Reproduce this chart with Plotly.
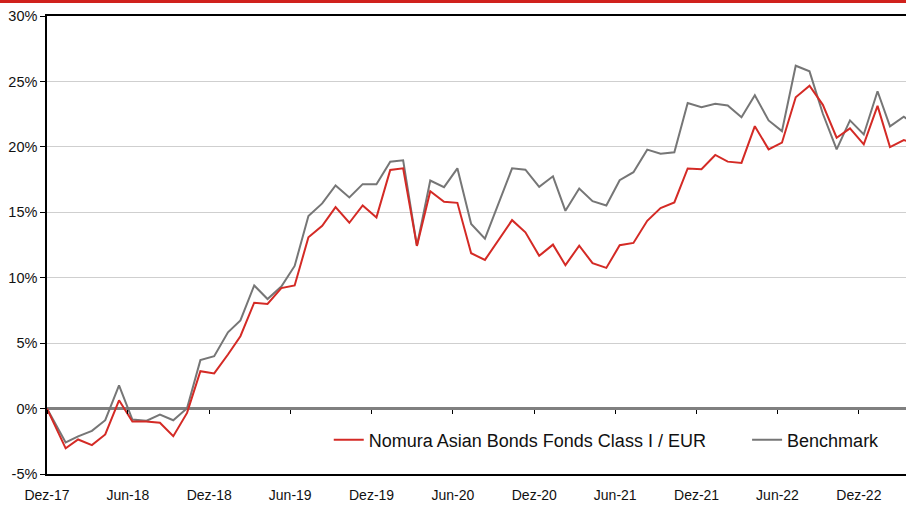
import pandas as pd
import plotly.graph_objects as go

# ---- data (cumulative performance, %) ----
start_date = ["2017-12-20"]
month_ends = [d.strftime("%Y-%m-%d") for d in pd.date_range("2018-01-31", periods=64, freq="ME")]
dates = start_date + month_ends

fund = [0, -3.04, -2.36, -2.79, -1.98, 0.63, -0.99, -0.99, -1.09, -2.11,
        -0.33, 2.86, 2.69, 4.13, 5.53, 8.09, 7.99, 9.21, 9.41, 13.09,
        13.97, 15.40, 14.20, 15.52, 14.61, 18.24, 18.36, 12.43, 16.61, 15.80,
        15.72, 11.87, 11.36, 12.88, 14.40, 13.47, 11.67, 12.53, 10.96, 12.45,
        11.11, 10.75, 12.48, 12.66, 14.35, 15.32, 15.75, 18.35, 18.29, 19.38,
        18.87, 18.77, 21.58, 19.81, 20.32, 23.79, 24.68, 23.21, 20.70, 21.41,
        20.19, 23.13, 19.98, 20.52, 20.2]

benchmark = [0, -2.59, -2.13, -1.70, -0.89, 1.77, -0.84, -0.94, -0.46, -0.89,
             0.02, 3.70, 4.00, 5.83, 6.74, 9.41, 8.37, 9.33, 10.90, 14.71,
             15.68, 17.05, 16.13, 17.15, 17.15, 18.87, 18.97, 12.43, 17.43, 16.92,
             18.36, 14.10, 12.98, 15.62, 18.36, 18.26, 16.94, 17.75, 15.11, 16.82,
             15.85, 15.52, 17.45, 18.06, 19.79, 19.48, 19.58, 23.35, 23.03, 23.29,
             23.16, 22.27, 23.94, 22.02, 21.20, 26.20, 25.77, 22.53, 19.81, 22.02,
             20.95, 24.25, 21.56, 22.30, 21.6]

tick_dates = ["2017-12-20", "2018-06-20", "2018-12-20", "2019-06-20", "2019-12-20",
              "2020-06-20", "2020-12-20", "2021-06-20", "2021-12-20", "2022-06-20",
              "2022-12-20"]
tick_labels = ["Dez-17", "Jun-18", "Dez-18", "Jun-19", "Dez-19", "Jun-20",
               "Dez-20", "Jun-21", "Dez-21", "Jun-22", "Dez-22"]

y_tickvals = [-5, 0, 5, 10, 15, 20, 25, 30]
y_ticklabels = ["-5%", "0%", "5%", "10%", "15%", "20%", "25%", "30%"]

fund_name = "Nomura Asian Bonds Fonds Class I / EUR"
bench_name = "Benchmark"

RED = "#d42a25"
GREY = "#767676"
FONT = "Liberation Sans, Arial, sans-serif"
x_range = ["2017-12-20", "2023-04-05"]

fig = go.Figure()
fig.add_trace(go.Scatter(x=dates, y=benchmark, mode="lines", name=bench_name,
                         line=dict(color=GREY, width=2), legend="legend2"))
fig.add_trace(go.Scatter(x=dates, y=fund, mode="lines", name=fund_name,
                         line=dict(color=RED, width=2), legend="legend"))
# helper trace so the tick-only axis on the 0% line is drawn
fig.add_trace(go.Scatter(x=[dates[0]], y=[None], xaxis="x2", showlegend=False,
                         hoverinfo="skip", mode="lines"))

fig.update_layout(
    width=906, height=506,
    margin=dict(l=47, r=0, t=16, b=32),
    paper_bgcolor="white", plot_bgcolor="white",
    font=dict(family=FONT, size=14, color="#111111"),
    xaxis=dict(
        type="date", range=x_range,
        tickmode="array", tickvals=tick_dates, ticktext=tick_labels,
        showgrid=False, zeroline=False,
        showline=True, linecolor="#000000", linewidth=1.5, mirror=True,
        ticks="", ticklabelstandoff=7,
        tickfont=dict(size=14, family=FONT, color="#111111"),
    ),
    xaxis2=dict(
        type="date", range=x_range, overlaying="x", anchor="free",
        position=5 / 35, side="bottom",
        tickmode="array", tickvals=tick_dates, showticklabels=False,
        ticks="outside", ticklen=4, tickwidth=1, tickcolor="#000000",
        showgrid=False, zeroline=False, showline=False,
    ),
    yaxis=dict(
        range=[-5, 30], tickmode="array", tickvals=y_tickvals, ticktext=y_ticklabels,
        showgrid=True, gridcolor="#cfcfcf", gridwidth=1,
        zeroline=True, zerolinecolor="#808080", zerolinewidth=2.5,
        showline=True, linecolor="#000000", linewidth=1.5,
        ticks="outside", ticklen=5, tickcolor="#000000",
        tickfont=dict(size=14.5, family=FONT, color="#111111"),
    ),
    legend=dict(x=0.328, y=0.074, xanchor="left", yanchor="middle",
                orientation="h", bgcolor="rgba(0,0,0,0)",
                font=dict(size=18, family=FONT, color="#111111")),
    legend2=dict(x=0.815, y=0.074, xanchor="left", yanchor="middle",
                 orientation="h", bgcolor="rgba(0,0,0,0)",
                 font=dict(size=18, family=FONT, color="#111111")),
    shapes=[dict(type="line", xref="paper", yref="paper",
                 x0=-0.06, x1=1.0, y0=1.0 + 14.5 / 458, y1=1.0 + 14.5 / 458,
                 line=dict(color="#d0211c", width=3))],
    showlegend=True,
)

fig.write_html("out.html", config={"displayModeBar": False},
               post_script="document.body.style.margin='0';")
